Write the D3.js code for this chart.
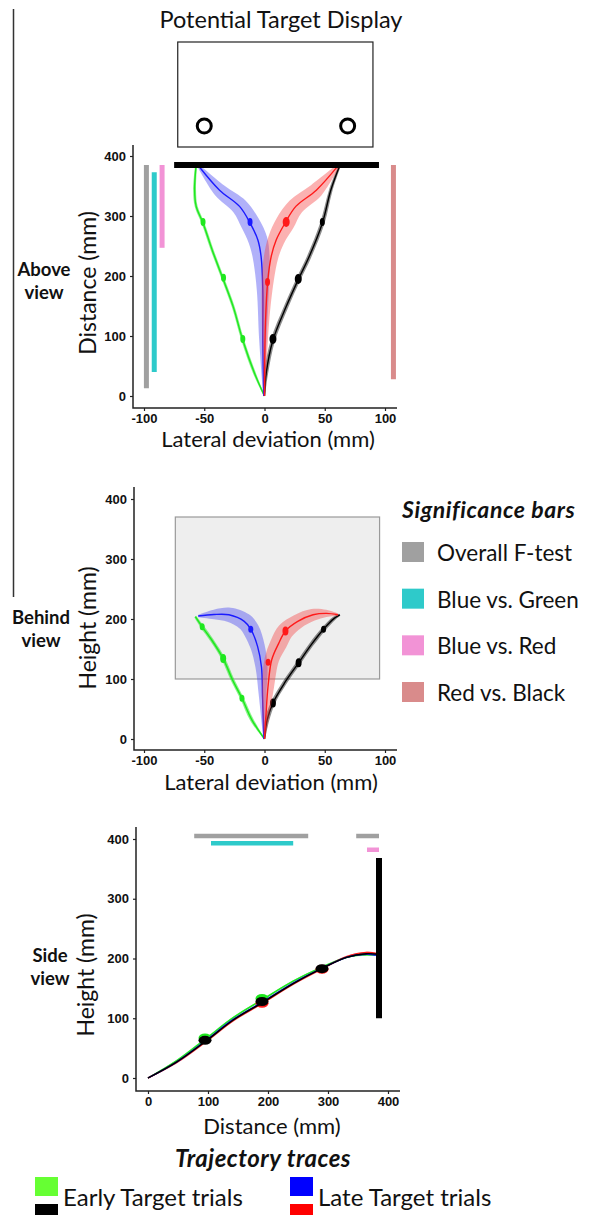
<!DOCTYPE html>
<html>
<head>
<meta charset="utf-8">
<script src="https://cdn.jsdelivr.net/npm/d3@7"></script>
<style>
  body { margin: 0; background: #fff; }
  svg { display: block; }
  .tick text { font-family: "Liberation Sans", Arial, sans-serif; font-weight: bold; font-size: 13px; fill: #111; }
  .tick line { stroke: #222; stroke-width: 1.2; }
  .lbl { font-family: Lato, "Open Sans", sans-serif; fill: #111; }
</style>
</head>
<body>
<svg id="viz" width="602" height="1215"></svg>
<script>
// ---- data ----
// each trace row: [lateral or distance, distance or height, half-width of band (mm)]
var aboveGreen = [[0,0,0.5],[-8.3,38,1.2],[-18,93,1.2],[-26,149,1.2],[-34,193,1.2],[-43,241,1.2],[-51,288,1.2],[-56.7,316,1.2],[-58,343,1.2],[-56.7,386,0.8]];
var aboveBlack = [[0,0,0.5],[1.4,38,1.6],[7,93,1.8],[18,149,1.8],[28,194,1.8],[37,232,1.8],[48,288,1.8],[55,343,1.5],[62.8,386,1]];
var aboveBlue  = [[-0.6,0,0.5],[-1.4,93,3],[-1.4,177,5],[-2.8,232,7],[-5.5,260,8],[-11.9,288,8],[-20.7,316,7],[-37.3,343,5.5],[-55.3,385,1]];
var aboveRed   = [[0,0,0.5],[0.8,122,3],[2.8,194,5],[5.5,232,6],[9.7,260,7],[17,288,8],[26,316,7],[43,343,6],[62,386,1]];

var behindGreen = [[0,0,0.5],[-10.5,32,1.5],[-18.7,68,1.5],[-26.4,98,1.5],[-34.3,134,1.5],[-43.8,165,1.5],[-51.7,187,1.5],[-57.4,204,1]];
var behindBlack = [[0,0,0.5],[2.2,32,1.8],[7,60,1.8],[16.5,93,1.8],[28.3,127,1.8],[38.7,157,1.8],[49,183,1.8],[57.8,201,1.5],[62.5,207,1]];
var behindBlue  = [[-0.5,0,0.5],[-1.6,70,3],[-2.5,120,5],[-5.7,154,6],[-11.4,183,7],[-16.8,196,7],[-29.5,207,6],[-42,207.5,4],[-55,205,1]];
var behindRed   = [[0,0,0.5],[1.3,43,3],[2.9,87,5],[6,132,6],[11.7,159,7],[17.4,180,7],[27.6,196,6],[40.3,207,5],[51.4,209.4,3],[61,207,1]];

var sideGreen = [[0,0,1],[48,29,1.5],[98,67,1.5],[142,101,1.5],[192,132,1.5],[242,162,1.5],[289,185,1.5],[331,202,1.5],[364,206,1.5],[383,205,1]];
var sideRed   = [[0,0,1],[48,26,1.5],[98,62,1.5],[142,96,1.5],[192,126,1.5],[242,157,1.5],[289,182,1.5],[331,203,1.5],[364,210,1.5],[383,208,1]];
var sideBlue  = [[0,0,1],[48,27,1.2],[98,64,1.2],[142,98,1.2],[192,128,1.2],[242,159,1.2],[289,183,1.2],[331,202,1.2],[364,207,1.2],[383,205,1]];
var sideBlack = [[0,0,1],[48,27,1.2],[98,63,1.2],[142,97,1.2],[192,127,1.2],[242,158,1.2],[289,183,1.2],[331,202,1.2],[364,208,1.2],[383,207,1]];

// markers: [x, y, big?]
var aboveMarks = { green: [[-51,290,0],[-34,197,0],[-18,95,0]], blue: [[-12,290,0]], red: [[18,290,1],[2.5,190,0]], black: [[48,290,0],[28,195,1],[7,95,1]] };
var behindMarks = { green: [[-18.7,68,0],[-34.3,134,1],[-51.7,187,0]], blue: [[-11.4,183,0]], red: [[17.4,180,1],[3,128,0]], black: [[7,60,1],[28.3,127,1],[49,183,0]] };
var sideMarks = { green: [[95,67],[190,133]], red: [[190,125],[290,182]], blue: [], black: [[95,63],[190,128],[290,183]] };

// significance ranges (mm)
var aboveSig = [["overall",13,385],["blueGreen",40,373],["blueRed",247,385],["redBlack",28,385]];
var sideSig = [["overall",77,267],["overall",347,385],["blueGreen",105,242],["blueRed",365,385]];

var sigNames = ["overall","blueGreen","blueRed","redBlack"];
var sigLabels = ["Overall F-test","Blue vs. Green","Blue vs. Red","Red vs. Black"];
var sigColors = ["#a0a0a0","#2ecaca","#f293d6","#d98b8b"];

var traceNames = ["green","black","blue","red"];
var traceLine = {green:"#1ee81e", black:"#000", blue:"#1a1aff", red:"#ff1a1a"};
var traceBand = {green:"rgba(40,230,40,0.55)", black:"rgba(0,0,0,0.45)", blue:"rgba(70,70,240,0.42)", red:"rgba(245,70,70,0.42)"};

var ticksLat = [-100,-50,0,50,100];
var ticks400 = [0,100,200,300,400];

// target display (mm, above view coords)
var displayEdge = [-75,95,385];
var displayBox = [-72,90,415,590];
var targets = [[-50,450],[69,450]];
// behind view target area (mm)
var behindBox = [-74,95.5,100,370];

// ---- drawing ----
var svg = d3.select("#viz");
var sigColor = d3.scaleOrdinal().domain(sigNames).range(sigColors);

function bandPath(pts, x, y, k) {
  var p = pts.map(d => [x(d[0]), y(d[1]), d[2]*k]);
  var up = [], lo = [];
  p.forEach(function(d,i){
    var a = p[Math.max(i-1,0)], b = p[Math.min(i+1,p.length-1)];
    var tx = b[0]-a[0], ty = b[1]-a[1], L = Math.hypot(tx,ty) || 1;
    var nx = -ty/L, ny = tx/L;
    up.push([d[0]+nx*d[2], d[1]+ny*d[2]]);
    lo.push([d[0]-nx*d[2], d[1]-ny*d[2]]);
  });
  var c = d3.line().curve(d3.curveCatmullRom);
  return c(up) + c(lo.reverse()).replace(/^M/,"L") + "Z";
}

function drawTraces(g, traces, marks, x, y, order, markR) {
  var k = Math.abs(x(1)-x(0));
  var line = d3.line().x(d => x(d[0])).y(d => y(d[1])).curve(d3.curveCatmullRom);
  order.forEach(function(name){
    var t = traces[name];
    g.append("path").attr("d", bandPath(t, x, y, k)).attr("fill", traceBand[name]);
    g.append("path").attr("d", line(t)).attr("fill","none")
      .attr("stroke", traceLine[name]).attr("stroke-width", 1.4);
    g.selectAll(null).data(marks[name]).enter().append("ellipse")
      .attr("cx", d => x(d[0])).attr("cy", d => y(d[1]))
      .attr("rx", d => markR(d)[0]).attr("ry", d => markR(d)[1])
      .attr("fill", traceLine[name]);
  });
}

function axes(g, x, y, xt, yt, ax, ay, yTop, xRight) {
  var fmt = d => String(d);
  g.append("g").attr("transform","translate("+ax+",0)")
    .call(d3.axisLeft(y).tickValues(yt).tickFormat(fmt).tickSize(3).tickPadding(4))
    .call(s => s.select(".domain").remove());
  g.append("g").attr("transform","translate(0,"+ay+")")
    .call(d3.axisBottom(x).tickValues(xt).tickFormat(fmt).tickSize(3).tickPadding(3))
    .call(s => s.select(".domain").remove());
  g.append("path").attr("d","M"+ax+","+yTop+"V"+ay+"H"+xRight)
    .attr("fill","none").attr("stroke","#222").attr("stroke-width",1.5);
}

function sideLabel(g, x, y, words) {
  words.forEach(function(w,i){
    g.append("text").attr("class","lbl").attr("x",x).attr("y",y+i*23).attr("text-anchor","middle")
      .style("font-size","18.5px").style("font-weight","bold").text(w);
  });
}

// stray vertical rule at left
svg.append("line").attr("x1",13.5).attr("x2",13.5).attr("y1",9).attr("y2",597)
  .attr("stroke","#333").attr("stroke-width",1.5);

// ===== Above view =====
var x1 = d3.scaleLinear().domain([-100,100]).range([144,385]);
var y1 = d3.scaleLinear().domain([0,400]).range([396,156]);
var gA = svg.append("g").attr("id","above");

svg.append("text").attr("class","lbl").attr("x",281).attr("y",28)
  .attr("text-anchor","middle").style("font-size","23.5px").text("Potential Target Display");

gA.append("rect")
  .attr("x", x1(displayBox[0])).attr("y", y1(displayBox[3]))
  .attr("width", x1(displayBox[1])-x1(displayBox[0])).attr("height", y1(displayBox[2])-y1(displayBox[3]))
  .attr("fill","none").attr("stroke","#222").attr("stroke-width",1.2);
gA.selectAll(".target").data(targets).enter().append("circle")
  .attr("class","target").attr("cx", d => x1(d[0])).attr("cy", d => y1(d[1])).attr("r",7)
  .attr("fill","none").attr("stroke","#000").attr("stroke-width",3);

axes(gA, x1, y1, ticksLat, ticks400, 133, 408, 145, 397);

// sig bars (vertical), lanes in mm of lateral axis
var aboveLane = {overall:-98, blueGreen:-91.5, blueRed:-85, redBlack:107};
gA.selectAll(".sig").data(aboveSig).enter().append("line")
  .attr("x1", d => x1(aboveLane[d[0]])).attr("x2", d => x1(aboveLane[d[0]]))
  .attr("y1", d => y1(d[1])).attr("y2", d => y1(d[2]))
  .attr("stroke", d => sigColor(d[0])).attr("stroke-width",5);

drawTraces(gA, {green:aboveGreen, black:aboveBlack, blue:aboveBlue, red:aboveRed}, aboveMarks,
  x1, y1, traceNames, d => d[2] ? [3.5,5] : [2.5,4]);

gA.append("line").attr("x1", x1(displayEdge[0])).attr("x2", x1(displayEdge[1]))
  .attr("y1", y1(displayEdge[2])).attr("y2", y1(displayEdge[2]))
  .attr("stroke","#000").attr("stroke-width",6);

gA.append("text").attr("class","lbl").attr("transform","translate(96,283) rotate(-90)")
  .attr("text-anchor","middle").style("font-size","23px").text("Distance (mm)");
gA.append("text").attr("class","lbl").attr("x",268).attr("y",447)
  .attr("text-anchor","middle").style("font-size","22px").text("Lateral deviation (mm)");
sideLabel(gA, 44, 276, ["Above","view"]);

// ===== Behind view =====
var x2 = d3.scaleLinear().domain([-100,100]).range([144,385]);
var y2 = d3.scaleLinear().domain([0,400]).range([739,499]);
var gB = svg.append("g").attr("id","behind");

gB.append("rect").attr("x", x2(behindBox[0])).attr("y", y2(behindBox[3]))
  .attr("width", x2(behindBox[1])-x2(behindBox[0])).attr("height", y2(behindBox[2])-y2(behindBox[3]))
  .attr("fill","#eeeeee").attr("stroke","#9a9a9a").attr("stroke-width",1.2);

axes(gB, x2, y2, ticksLat, ticks400, 134, 750, 487, 397);

drawTraces(gB, {green:behindGreen, black:behindBlack, blue:behindBlue, red:behindRed}, behindMarks,
  x2, y2, traceNames, d => d[2] ? [3,4.5] : [2.5,3.5]);

gB.append("text").attr("class","lbl").attr("transform","translate(96,628) rotate(-90)")
  .attr("text-anchor","middle").style("font-size","23px").text("Height (mm)");
gB.append("text").attr("class","lbl").attr("x",271).attr("y",790)
  .attr("text-anchor","middle").style("font-size","22px").text("Lateral deviation (mm)");
sideLabel(gB, 41, 624, ["Behind","view"]);

// significance legend
var legS = svg.append("g").attr("id","sig-legend");
legS.append("text").attr("class","lbl").attr("x",402).attr("y",518)
  .style("font-size","23px").style("font-weight","bold").style("font-style","italic")
  .style("letter-spacing","0.6px").text("Significance bars");
var legY = d3.scalePoint().domain(sigNames).range([552,692]);
legS.selectAll(".sq").data(sigNames).enter().append("rect")
  .attr("x",402).attr("y", d => legY(d)-10).attr("width",22).attr("height",20)
  .attr("fill", d => sigColor(d));
legS.selectAll(".lt").data(sigNames).enter().append("text").attr("class","lbl")
  .attr("x",437).attr("y", d => legY(d)+9).style("font-size","22.5px")
  .text((d,i) => sigLabels[i]);

// ===== Side view =====
var x3 = d3.scaleLinear().domain([0,400]).range([148,388]);
var y3 = d3.scaleLinear().domain([0,400]).range([1078,839]);
var gC = svg.append("g").attr("id","side");

axes(gC, x3, y3, ticks400, ticks400, 136, 1091, 827, 400);

var sideLane = [405,405,393,382];
gC.selectAll(".sig").data(sideSig).enter().append("line")
  .attr("x1", d => x3(d[1])).attr("x2", d => x3(d[2]))
  .attr("y1", (d,i) => y3(sideLane[i])).attr("y2", (d,i) => y3(sideLane[i]))
  .attr("stroke", d => sigColor(d[0])).attr("stroke-width",4.5);

drawTraces(gC, {green:sideGreen, black:sideBlack, blue:sideBlue, red:sideRed}, sideMarks,
  x3, y3, ["green","red","blue","black"], d => [6.5,4.5]);

gC.append("line").attr("x1", x3(385)).attr("x2", x3(385)).attr("y1", y3(368)).attr("y2", y3(100))
  .attr("stroke","#000").attr("stroke-width",6);

gC.append("text").attr("class","lbl").attr("transform","translate(94,975) rotate(-90)")
  .attr("text-anchor","middle").style("font-size","23px").text("Height (mm)");
gC.append("text").attr("class","lbl").attr("x",272).attr("y",1134)
  .attr("text-anchor","middle").style("font-size","22px").text("Distance (mm)");
sideLabel(gC, 50, 962, ["Side","view"]);

// trajectory legend
var legT = svg.append("g").attr("id","trace-legend");
legT.append("text").attr("class","lbl").attr("x",263).attr("y",1167).attr("text-anchor","middle")
  .style("font-size","24px").style("font-weight","bold").style("font-style","italic")
  .style("letter-spacing","0.5px").text("Trajectory traces");
var legGroups = [["Early Target trials",["#66ff33","#000"]],["Late Target trials",["#0000ff","#ff0000"]]];
var legX = d3.scalePoint().domain([0,1]).range([35,290]);
legGroups.forEach(function(g,i){
  legT.selectAll(null).data(g[1]).enter().append("rect")
    .attr("x", legX(i)).attr("y", (d,j) => 1177 + j*27).attr("width",23).attr("height",19)
    .attr("fill", d => d);
  legT.append("text").attr("class","lbl").attr("x", legX(i)+28).attr("y",1206)
    .style("font-size","24px").text(g[0]);
});
</script>
</body>
</html>
